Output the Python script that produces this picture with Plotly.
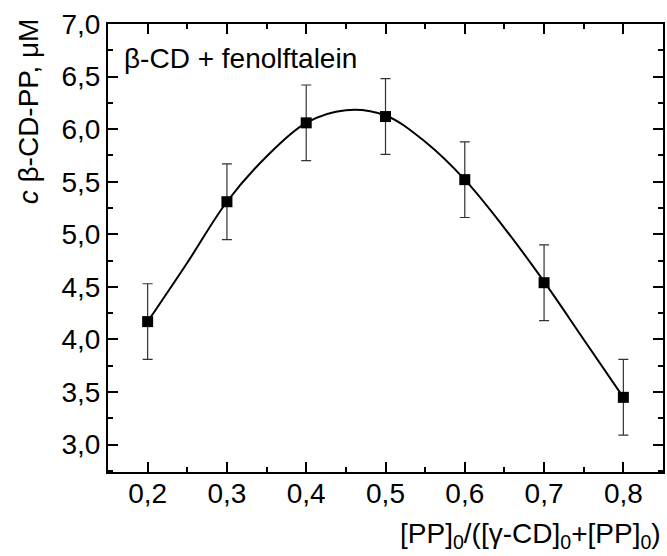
import plotly.graph_objects as go

# data
x_vals = [0.2, 0.3, 0.4, 0.5, 0.6, 0.7, 0.8]
y_vals = [4.17, 5.31, 6.06, 6.12, 5.52, 4.54, 3.45]
y_err = [0.36, 0.36, 0.36, 0.36, 0.36, 0.36, 0.36]

curve_x = [0.2, 0.25, 0.3, 0.35, 0.4, 0.45, 0.5, 0.55, 0.6, 0.65, 0.7, 0.75, 0.8]
curve_y = [4.17, 4.73, 5.31, 5.74, 6.06, 6.18, 6.13, 5.88, 5.52, 5.06, 4.55, 4.00, 3.45]

x_ticks = [0.2, 0.3, 0.4, 0.5, 0.6, 0.7, 0.8]
y_ticks = [3.0, 3.5, 4.0, 4.5, 5.0, 5.5, 6.0, 6.5, 7.0]

FONT = "Liberation Sans, Arial, sans-serif"
FS = 28

fig = go.Figure()
fig.add_trace(go.Scatter(
    x=curve_x, y=curve_y, mode="lines",
    line=dict(color="black", width=2, shape="spline", smoothing=1.0),
    hoverinfo="skip", showlegend=False))
fig.add_trace(go.Scatter(
    x=x_vals, y=y_vals, mode="markers",
    marker=dict(symbol="square", size=11, color="black"),
    error_y=dict(type="data", array=y_err, visible=True, color="#333333",
                 thickness=1.2, width=5),
    showlegend=False))

axis_common = dict(
    showline=True, linecolor="black", linewidth=2, mirror="ticks",
    ticks="inside", ticklen=10, tickwidth=2, tickcolor="black",
    showgrid=False, zeroline=False,
    tickfont=dict(family=FONT, size=FS, color="black"),
)

fig.update_xaxes(
    range=[0.15, 0.85], tickvals=x_ticks, tickformat=".1f", ticklabelstandoff=-5,
    minor=dict(dtick=0.05, tick0=0.15, ticks="inside", ticklen=5, tickwidth=2, tickcolor="black"),
    **axis_common)
fig.update_yaxes(
    range=[2.74, 7.0], tickvals=y_ticks, tickformat=".1f",
    minor=dict(dtick=0.25, tick0=3.0, ticks="inside", ticklen=5, tickwidth=2, tickcolor="black"),
    **axis_common)

fig.add_annotation(
    text="<i>c</i> β-CD-PP, μM", xref="paper", yref="paper",
    x=(28 - 108) / 557, y=(472 - 111) / 448, xanchor="center", yanchor="middle",
    textangle=-90, showarrow=False,
    font=dict(family=FONT, size=FS, color="black"))
fig.add_annotation(
    text="β-CD + fenolftalein", xref="paper", yref="paper", x=0.025, y=0.922,
    xanchor="left", yanchor="middle", showarrow=False,
    font=dict(family=FONT, size=FS, color="black"))
fig.add_annotation(
    text="[PP]<sub>0</sub>/([γ-CD]<sub>0</sub>+[PP]<sub>0</sub>)", xref="paper", yref="paper",
    x=1.0, y=-0.185, xanchor="right", yanchor="bottom", showarrow=False,
    font=dict(family=FONT, size=FS, color="black"))

fig.update_layout(
    width=667, height=556, separators=", ",
    margin=dict(l=108, r=2, t=24, b=84),
    plot_bgcolor="white", paper_bgcolor="white",
    font=dict(family=FONT, color="black"),
)

fig.write_html("out.html")
